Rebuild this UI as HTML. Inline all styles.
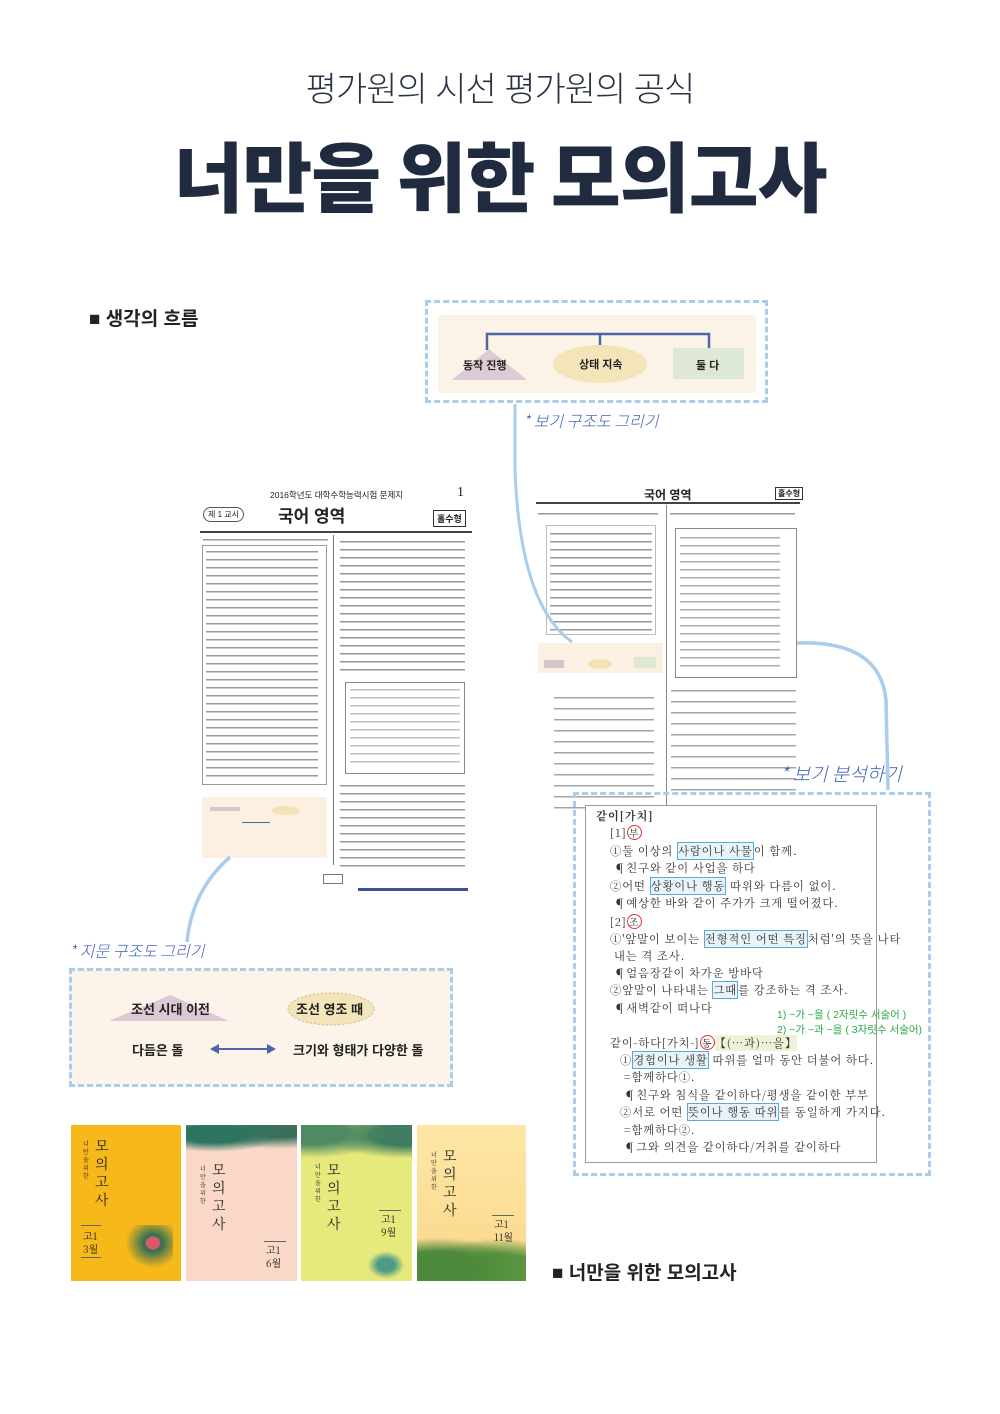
<!DOCTYPE html>
<html><head><meta charset="utf-8"><style>
*{margin:0;padding:0;box-sizing:border-box}
body{width:1000px;height:1414px;background:#fff;position:relative;overflow:hidden;font-family:"Liberation Sans","Noto Sans CJK KR",sans-serif;color:#222}
.a{position:absolute}
.hw{font-family:"Noto Sans CJK KR",sans-serif;color:#3d63b8;font-weight:300;font-style:italic}
.lines{background:repeating-linear-gradient(#fff 0 4px,#9a9a9a 4px 5.5px,#fff 5.5px 8px)}
.lines2{background:repeating-linear-gradient(#fff 0 7px,#a5a5a5 7px 8.5px,#fff 8.5px 11px)}
.dash{border:3px dashed #a9cdeb}
.dict div{position:absolute;left:0;font-size:11.3px;letter-spacing:.9px;white-space:nowrap;font-family:"Noto Serif CJK SC","Noto Sans CJK KR",serif;color:#333}
.bx{border:1.3px solid #5aa9d6;background:#e8f3fa}
.rc{display:inline-block;border:1.3px solid #d33;border-radius:50%;width:15px;height:15px;text-align:center;line-height:13px;font-size:10px}
.cv{font-family:"Noto Serif CJK SC","Noto Sans CJK KR",serif;color:#222}
</style></head><body>

<div class="a" style="left:0;width:1000px;top:62px;text-align:center;font-size:34px;font-weight:300;color:#2b3244;letter-spacing:-1px">평가원의 시선 평가원의 공식</div>
<div class="a" style="left:0;width:1000px;top:118px;text-align:center;font-size:76px;font-weight:900;color:#212b40;letter-spacing:-1px;font-family:'Noto Sans CJK KR',sans-serif">너만을 위한 모의고사</div>

<div class="a" style="left:89px;top:304px;font-size:19px;font-weight:700">■ 생각의 흐름</div>

<div class="a dash" style="left:425px;top:300px;width:343px;height:103px"></div>
<div class="a" style="left:438px;top:315px;width:318px;height:78px;background:#fbf3e6"></div>
<svg class="a" style="left:0;top:0" width="1000" height="1414">
<path d="M487 350V334H709V350M600 334V348" fill="none" stroke="#4c66a8" stroke-width="2.5"/>
<polygon points="452,380 489,349 527,380" fill="#dccbd4"/>
<ellipse cx="600" cy="364" rx="47" ry="19" fill="#f3e4b9"/>
<rect x="673" y="348" width="71" height="31" fill="#dde8d5"/>
</svg>
<div class="a" style="left:463px;top:357px;font-size:11px;font-weight:700">동작 진행</div>
<div class="a" style="left:579px;top:356px;font-size:11px;font-weight:700">상태 지속</div>
<div class="a" style="left:696px;top:357px;font-size:11px;font-weight:700">둘 다</div>
<div class="a hw" style="left:523px;top:408px;font-size:16px">* 보기 구조도 그리기</div>

<div class="a" style="left:200px;top:485px;width:272px;height:420px;background:#fff">
  <div class="a" style="left:70px;top:4px;font-size:8.5px">2016학년도 대학수학능력시험 문제지</div>
  <div class="a" style="left:257px;top:0;font-size:14px;font-family:'Liberation Serif',serif">1</div>
  <div class="a" style="left:3px;top:22px;font-size:8px;border:1px solid #555;border-radius:8px;padding:1px 4px">제 1 교시</div>
  <div class="a" style="left:78px;top:17px;font-size:17px;font-weight:700">국어 영역</div>
  <div class="a" style="left:233px;top:25px;font-size:9px;font-weight:700;border:1px solid #333;padding:1px 3px">홀수형</div>
  <div class="a" style="left:0;top:46px;width:272px;height:1.5px;background:#444"></div>
  <div class="a" style="left:133px;top:50px;width:1px;height:330px;background:#777"></div>
  <div class="a lines" style="left:3px;top:50px;width:125px;height:10px"></div>
  <div class="a" style="left:2px;top:60px;width:125px;height:240px;border:1px solid #999"></div>
  <div class="a lines" style="left:6px;top:62px;width:112px;height:236px"></div>
  <div class="a" style="left:2px;top:312px;width:125px;height:61px;background:#fbf0e2"></div>
  <div class="a" style="left:10px;top:322px;width:30px;height:4px;background:#d8c4cc"></div>
  <div class="a" style="left:72px;top:321px;width:28px;height:9px;background:#f3e3b6;border-radius:50%"></div>
  <div class="a" style="left:42px;top:337px;width:28px;height:1px;background:#4c66a8"></div>
  <div class="a lines" style="left:140px;top:52px;width:125px;height:138px"></div>
  <div class="a" style="left:145px;top:197px;width:120px;height:92px;border:1px solid #888"></div>
  <div class="a lines" style="left:150px;top:200px;width:110px;height:80px;opacity:.6"></div>
  <div class="a lines" style="left:140px;top:296px;width:125px;height:88px"></div>
  <div class="a" style="left:123px;top:389px;width:20px;height:10px;border:1px solid #777"></div>
  <div class="a" style="left:158px;top:403px;width:110px;height:3px;background:#3b4f9a"></div>
</div>

<div class="a hw" style="left:69px;top:938px;font-size:16px">* 지문 구조도 그리기</div>
<div class="a dash" style="left:69px;top:968px;width:384px;height:119px;background:#fcf3eb"></div>
<svg class="a" style="left:0;top:0" width="1000" height="1414">
<polygon points="109,1021 170,995 229,1021" fill="#dcc8d3"/>
<ellipse cx="331" cy="1009" rx="43" ry="16" fill="#f3e4b9" stroke="#ccb98c" stroke-dasharray="2 2"/>
<path d="M218 1049H268" stroke="#4c66a8" stroke-width="2"/>
<polygon points="210,1049 219,1044 219,1054" fill="#4c66a8"/>
<polygon points="276,1049 267,1044 267,1054" fill="#4c66a8"/>
</svg>
<div class="a" style="left:131px;top:999px;font-size:13px;font-weight:700">조선 시대 이전</div>
<div class="a" style="left:296px;top:999px;font-size:13px;font-weight:700">조선 영조 때</div>
<div class="a" style="left:132px;top:1040px;font-size:13px;font-weight:700">다듬은 돌</div>
<div class="a" style="left:293px;top:1040px;font-size:13px;font-weight:700">크기와 형태가 다양한 돌</div>

<div class="a" style="left:534px;top:485px;width:268px;height:325px;background:#fff">
  <div class="a" style="left:110px;top:1px;font-size:12px;font-weight:700">국어 영역</div>
  <div class="a" style="left:241px;top:2px;font-size:8px;font-weight:700;border:1px solid #333;padding:0 2px;white-space:nowrap">홀수형</div>
  <div class="a" style="left:2px;top:17px;width:264px;height:1.5px;background:#444"></div>
  <div class="a" style="left:132px;top:20px;width:1px;height:300px;background:#888"></div>
  <div class="a lines" style="left:4px;top:24px;width:120px;height:10px"></div>
  <div class="a" style="left:12px;top:40px;width:110px;height:110px;border:1px solid #bbb"></div>
  <div class="a lines" style="left:16px;top:44px;width:102px;height:104px"></div>
  <div class="a" style="left:4px;top:158px;width:125px;height:30px;background:#fbf0e2"></div>
  <div class="a" style="left:10px;top:175px;width:20px;height:8px;background:#d8c4cc"></div>
  <div class="a" style="left:54px;top:174px;width:24px;height:10px;background:#f3e3b6;border-radius:50%"></div>
  <div class="a" style="left:100px;top:172px;width:22px;height:11px;background:#dde8d5"></div>
  <div class="a lines2" style="left:20px;top:205px;width:100px;height:120px"></div>
  <div class="a lines" style="left:136px;top:24px;width:125px;height:12px"></div>
  <div class="a" style="left:141px;top:43px;width:122px;height:150px;border:1px solid #888"></div>
  <div class="a lines" style="left:146px;top:48px;width:100px;height:140px;opacity:.8"></div>
  <div class="a lines2" style="left:137px;top:198px;width:125px;height:112px"></div>
</div>
<div class="a hw" style="left:780px;top:760px;font-size:19px">* 보기 분석하기</div>

<div class="a dash" style="left:573px;top:792px;width:358px;height:384px"></div>
<div class="a" style="left:585px;top:805px;width:292px;height:358px;border:1.5px solid #999;background:#fff"></div>
<div class="a dict" style="left:596px;top:808px;width:280px;height:350px">
<div style="top:0;font-weight:700">같이[가치]</div>
<div style="left:14px;top:17px">[1]<span class="rc">부</span></div>
<div style="left:14px;top:35px">①둘 이상의 <span class="bx">사람이나 사물</span>이 함께.</div>
<div style="left:18px;top:52px">¶친구와 같이 사업을 하다</div>
<div style="left:14px;top:70px">②어떤 <span class="bx">상황이나 행동</span> 따위와 다름이 없이.</div>
<div style="left:18px;top:87px">¶예상한 바와 같이 주가가 크게 떨어졌다.</div>
<div style="left:14px;top:106px">[2]<span class="rc">조</span></div>
<div style="left:14px;top:123px">①'앞말이 보이는 <span class="bx">전형적인 어떤 특징</span>처럼'의 뜻을 나타</div>
<div style="left:18px;top:140px">내는 격 조사.</div>
<div style="left:18px;top:157px">¶얼음장같이 차가운 방바닥</div>
<div style="left:14px;top:174px">②앞말이 나타내는 <span class="bx">그때</span>를 강조하는 격 조사.</div>
<div style="left:18px;top:192px">¶새벽같이 떠나다</div>
<div style="left:14px;top:227px">같이-하다[가치-]<span class="rc">동</span><span style="background:#eef3d8">【(…과)…을】</span></div>
<div style="left:24px;top:244px">①<span class="bx">경험이나 생활</span> 따위를 얼마 동안 더불어 하다.</div>
<div style="left:28px;top:261px">=함께하다①.</div>
<div style="left:28px;top:279px">¶친구와 침식을 같이하다/평생을 같이한 부부</div>
<div style="left:24px;top:296px">②서로 어떤 <span class="bx">뜻이나 행동 따위</span>를 동일하게 가지다.</div>
<div style="left:28px;top:314px">=함께하다②.</div>
<div style="left:28px;top:331px">¶그와 의견을 같이하다/거취를 같이하다</div>
</div>
<div class="a" style="left:777px;top:1008px;font-size:10.5px;color:#2aa84a;line-height:15px;white-space:nowrap">1) ~가 ~을 ( 2자릿수 서술어 )<br>2) ~가 ~과 ~을 ( 3자릿수 서술어)</div>

<svg class="a" style="left:0;top:0" width="1000" height="1414">
<path d="M515 404V470Q520 605 572 642" fill="none" stroke="#a9cdeb" stroke-width="3"/>
<path d="M797 643Q880 640 886 700L888 790" fill="none" stroke="#a9cdeb" stroke-width="3.5"/>
<path d="M230 857Q192 890 187 942" fill="none" stroke="#a9cdeb" stroke-width="3.5"/>
</svg>

<div class="a cv" style="left:71px;top:1125px;width:110px;height:156px;background:#f7b81a">
  <div class="a" style="left:24px;top:12px;font-size:14px;line-height:18px;width:14px">모의고사</div>
  <div class="a" style="left:12px;top:15px;font-size:6px;width:6px;line-height:8px">너만을위한</div>
  <div class="a" style="left:10px;top:100px;width:20px;height:1px;background:#666"></div>
  <div class="a" style="left:12px;top:104px;font-size:10px;line-height:13px">고1<br>3월</div>
  <div class="a" style="left:10px;top:132px;width:20px;height:1px;background:#666"></div>
  <div class="a" style="left:52px;top:100px;width:50px;height:45px;background:radial-gradient(ellipse at 60% 40%,#d65a6a 0 15%,#2f6d57 20%,transparent 65%)"></div>
</div>
<div class="a cv" style="left:186px;top:1125px;width:111px;height:156px;background:#f9d8c7">
  <div class="a" style="left:0;top:0;width:111px;height:30px;background:radial-gradient(ellipse at 25% 30%,#2e7561 0 30%,transparent 60%),radial-gradient(ellipse at 85% 10%,#3c6f5a 0 25%,transparent 55%)"></div>
  <div class="a" style="left:26px;top:36px;font-size:14px;line-height:18px;width:14px">모의고사</div>
  <div class="a" style="left:14px;top:40px;font-size:6px;width:6px;line-height:8px">너만을위한</div>
  <div class="a" style="left:78px;top:116px;width:22px;height:1px;background:#666"></div>
  <div class="a" style="left:80px;top:118px;font-size:10px;line-height:13px">고1<br>6월</div>
</div>
<div class="a cv" style="left:301px;top:1125px;width:111px;height:156px;background:#e6e97b">
  <div class="a" style="left:0;top:0;width:111px;height:40px;background:radial-gradient(ellipse at 10% 20%,#4f8a62 0 25%,transparent 55%),radial-gradient(ellipse at 95% 25%,#3f7d60 0 25%,transparent 55%)"></div>
  <div class="a" style="left:26px;top:36px;font-size:14px;line-height:18px;width:14px">모의고사</div>
  <div class="a" style="left:14px;top:38px;font-size:6px;width:6px;line-height:8px">너만을위한</div>
  <div class="a" style="left:78px;top:85px;width:22px;height:1px;background:#666"></div>
  <div class="a" style="left:80px;top:87px;font-size:10px;line-height:13px">고1<br>9월</div>
  <div class="a" style="left:65px;top:125px;width:40px;height:30px;background:radial-gradient(ellipse,#4e9a86 0 30%,transparent 65%)"></div>
</div>
<div class="a cv" style="left:417px;top:1125px;width:109px;height:156px;background:linear-gradient(#fde7a6,#fbd78a)">
  <div class="a" style="left:26px;top:22px;font-size:14px;line-height:18px;width:14px">모의고사</div>
  <div class="a" style="left:14px;top:26px;font-size:6px;width:6px;line-height:8px">너만을위한</div>
  <div class="a" style="left:75px;top:90px;width:22px;height:1px;background:#666"></div>
  <div class="a" style="left:77px;top:92px;font-size:10px;line-height:13px">고1<br>11월</div>
  <div class="a" style="left:0;top:110px;width:109px;height:46px;background:radial-gradient(ellipse at 20% 70%,#4e8a3c 0 35%,transparent 65%),radial-gradient(ellipse at 75% 80%,#5a9440 0 35%,transparent 65%)"></div>
</div>

<div class="a" style="left:552px;top:1258px;font-size:19px;font-weight:700">■ 너만을 위한 모의고사</div>
</body></html>
